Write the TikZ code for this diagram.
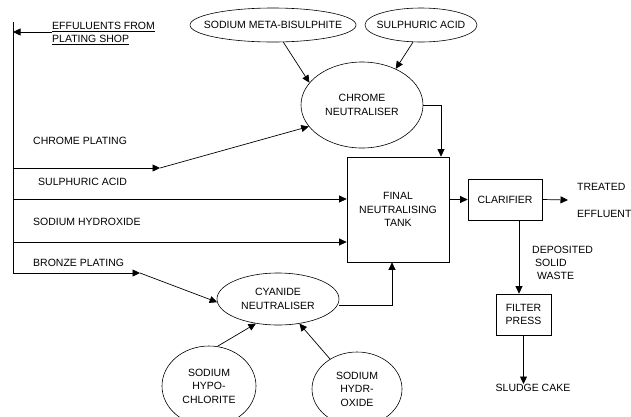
\documentclass[tikz,border=0pt]{standalone}
\usepackage{fontspec}
\setmainfont{Liberation Sans}
\usetikzlibrary{arrows.meta,shapes.geometric}
\tikzset{
  arr/.style={-{Triangle[length=7.5pt,width=7pt]}},
  ln/.style={line width=0.7pt},
  ell/.style={ellipse,draw,line width=0.6pt,inner sep=0pt,align=center},
  box/.style={rectangle,draw,line width=0.7pt,inner sep=0pt,align=center},
  lbl/.style={inner sep=0pt,align=left},
  every node/.style={font=\fontsize{10.5pt}{13.5pt}\selectfont}
}
\begin{document}
\begin{tikzpicture}[x=1pt,y=-1pt]
\useasboundingbox (0,0) rectangle (631,416);
\clip (0,0) rectangle (631,416);
\fill[white] (0,0) rectangle (631,416);

% nodes
\node[ell,inner xsep=-22pt,minimum width=166pt,minimum height=34pt] (mb) at (273,25) {SODIUM META-BISULPHITE};
\node[ell,inner xsep=-10pt,minimum width=112pt,minimum height=34pt] (sa) at (421,25) {SULPHURIC ACID};
\node[ell,minimum width=122pt,minimum height=86pt] (chrome) at (362,105) {CHROME\\NEUTRALISER};
\node[box,minimum width=102pt,minimum height=105pt] (tank) at (398,209.5) {FINAL\\NEUTRALISING\\TANK};
\node[box,minimum width=74pt,minimum height=41pt] (cl) at (505,199.5) {CLARIFIER};
\node[box,minimum width=55pt,minimum height=41pt] (fp) at (523.5,314.5) {FILTER\\PRESS};
\node[ell,minimum width=122pt,minimum height=52pt] (cy) at (278,299) {CYANIDE\\NEUTRALISER};
\node[ell,minimum width=94pt,minimum height=80pt] (hc) at (209,386) {SODIUM\\HYPO-\\CHLORITE};
\node[ell,minimum width=90pt,minimum height=74pt] (hx) at (357,389) {SODIUM\\HYDR-\\OXIDE};

% labels
\node[lbl,anchor=west] (efl) at (52,33.5) {\underline{EFFULUENTS FROM}\\\underline{PLATING SHOP}};
\node[lbl,anchor=west] (cpl) at (33,141) {CHROME PLATING};
\node[lbl,anchor=west] (sal) at (38,182) {SULPHURIC ACID};
\node[lbl,anchor=west] (shl) at (33,222) {SODIUM HYDROXIDE};
\node[lbl,anchor=west] (bpl) at (33,263) {BRONZE PLATING};
\node[lbl,anchor=west] (tr) at (577,187) {TREATED};
\node[lbl,anchor=west] (ef) at (577,214) {EFFLUENT};
\node[lbl,anchor=west] (dep) at (532,250) {DEPOSITED};
\node[lbl,anchor=west] (sol) at (535,263) {SOLID};
\node[lbl,anchor=west] (was) at (537,276) {WASTE};
\node[lbl,anchor=north] (sl) at (533,384) {SLUDGE CAKE};

% coordinates
\coordinate (top) at (13,22);
\coordinate (bot) at (13,273);
\coordinate (efs) at (52,32);
\coordinate (c1) at (13,168);
\coordinate (c1e) at (160,168);
\coordinate (c2) at (13,199);
\coordinate (c3) at (13,242);
\coordinate (c4e) at (140,273);
\coordinate (teo) at (568,200);

% connectors
\draw[ln] (top) -- (bot);
\draw[ln,arr] (efs) -- (efs -| top);
\draw[ln,arr] (c1) -- (c1e);
\draw[ln,arr] (c1e) -- (chrome.202);
\draw[ln,arr] (c2) -- (c2 -| tank.west);
\draw[ln,arr] (c3) -- (c3 -| tank.west);
\draw[ln,arr] (bot) -- (c4e);
\draw[ln,arr] (c4e) -- (cy.183);
\draw[ln,arr] (mb.-59.5) -- (chrome.157);
\draw[ln,arr] (sa.-115) -- (chrome.47);
\draw[ln,arr] (chrome.east) -| ([xshift=43pt]tank.north);
\draw[ln,arr] ([yshift=-6pt]cy.east) -| ([xshift=-6pt]tank.south);
\draw[ln,arr] (hc.78) -- (cy.-132);
\draw[ln,arr] (hx.132) -- (cy.-49);
\draw[ln,arr] (tank.east |- cl.west) -- (cl.west);
\draw[ln,arr] (cl.east) -- (teo);
\draw[ln,arr] ([xshift=14pt]cl.south) -- ([xshift=14pt]cl.south |- fp.north);
\draw[ln,arr] (fp.south) -- (fp.south |- sl.north);
\end{tikzpicture}
\end{document}
